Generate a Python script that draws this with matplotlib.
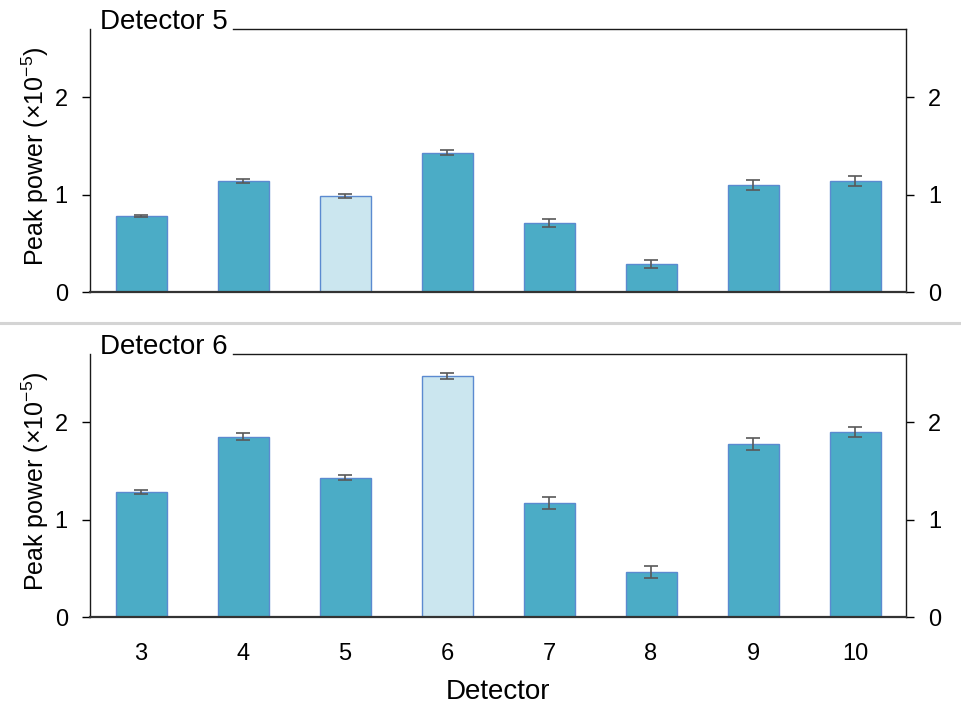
import matplotlib.pyplot as plt
from matplotlib.lines import Line2D

plt.rcParams['font.family'] = ['Liberation Sans', 'DejaVu Sans']

# Detector numbers on the x axis
detectors = [3, 4, 5, 6, 7, 8, 9, 10]

# Peak power (x1e-5) seen with detector 5 as reference
det5_power = [0.78, 1.14, 0.985, 1.43, 0.71, 0.29, 1.10, 1.14]
det5_err = [0.015, 0.025, 0.02, 0.025, 0.04, 0.04, 0.05, 0.05]

# Peak power (x1e-5) seen with detector 6 as reference
det6_power = [1.28, 1.85, 1.43, 2.47, 1.17, 0.46, 1.78, 1.90]
det6_err = [0.02, 0.035, 0.025, 0.03, 0.06, 0.062, 0.062, 0.055]

panels = [('Detector 5', 5, det5_power, det5_err),
          ('Detector 6', 6, det6_power, det6_err)]

bar_col = '#4BACC6'
ref_col = '#CBE6EF'
edge_col = '#5B8AD0'

fig = plt.figure(figsize=(9.61, 7.05), dpi=100)
ax_top = fig.add_axes([0.0937, 0.5858, 0.8491, 0.3731])
ax_bot = fig.add_axes([0.0937, 0.1248, 0.8491, 0.3731])

for ax, (title, ref, vals, errs) in zip([ax_top, ax_bot], panels):
    colors = [ref_col if d == ref else bar_col for d in detectors]
    ax.bar(detectors, vals, width=0.5, color=colors, edgecolor=edge_col,
           linewidth=1.0, zorder=2)
    ax.errorbar(detectors, vals, yerr=errs, fmt='none', ecolor='#595959',
                elinewidth=1.2, capsize=5, capthick=1.2, zorder=3)

    ax.set_xlim(2.5, 10.5)
    ax.set_ylim(0, 2.7)
    ax.set_yticks([0, 1, 2])
    ax.set_xticks(detectors)
    ax.tick_params(axis='y', left=True, right=True, labelleft=True,
                   labelright=True, direction='out', length=6, width=1,
                   labelsize=17, pad=10)
    ax.tick_params(axis='x', length=0, labelsize=17, pad=19)

    for side in ['left', 'right', 'top']:
        ax.spines[side].set_color('#1a1a1a')
        ax.spines[side].set_linewidth(1.0)
    ax.spines['bottom'].set_color('#333333')
    ax.spines['bottom'].set_linewidth(1.6)
    # top frame starts after the panel title
    ax.spines['top'].set_bounds(3.9, 10.5)

    ax.text(0.012, 1.0, title, transform=ax.transAxes, fontsize=20,
            ha='left', va='baseline')
    ax.set_ylabel('Peak power (×10$^{\\mathregular{-5}}$)', fontsize=18)
    ax.yaxis.set_label_coords(-0.048, 0.515)

ax_top.tick_params(axis='x', labelbottom=False)
ax_bot.set_xlabel('Detector', fontsize=20, labelpad=10)

# divider between the two panels
fig.add_artist(Line2D([0, 1], [0.5418, 0.5418], color='#d4d4d4',
                      linewidth=2.2, transform=fig.transFigure))

fig.savefig('out.png', dpi=100)
